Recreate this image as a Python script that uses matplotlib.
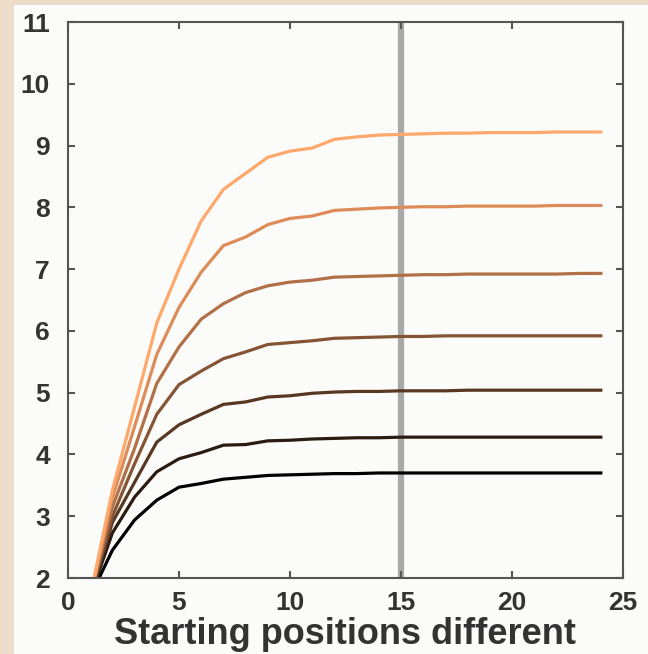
import numpy as np
import matplotlib
matplotlib.use('Agg')
import matplotlib.pyplot as plt
from matplotlib.patches import Rectangle

plt.rcParams['font.family'] = ['Liberation Sans', 'DejaVu Sans']
plt.rcParams['font.weight'] = 'bold'

positions = np.arange(1, 25)

# One curve per level, bottom (darkest) to top (lightest)
curve_1 = [1.7, 2.45, 2.94, 3.26, 3.47, 3.53, 3.60, 3.63, 3.66, 3.67, 3.68, 3.69,
           3.69, 3.70, 3.70, 3.70, 3.70, 3.70, 3.70, 3.70, 3.70, 3.70, 3.70, 3.70]
curve_2 = [1.7, 2.73, 3.31, 3.72, 3.93, 4.03, 4.15, 4.16, 4.22, 4.23, 4.25, 4.26,
           4.27, 4.27, 4.28, 4.28, 4.28, 4.28, 4.28, 4.28, 4.28, 4.28, 4.28, 4.28]
curve_3 = [1.7, 2.90, 3.55, 4.20, 4.48, 4.65, 4.81, 4.85, 4.93, 4.95, 4.99, 5.01,
           5.02, 5.02, 5.03, 5.03, 5.03, 5.04, 5.04, 5.04, 5.04, 5.04, 5.04, 5.04]
curve_4 = [1.7, 3.00, 3.85, 4.65, 5.13, 5.35, 5.55, 5.66, 5.78, 5.81, 5.84, 5.88,
           5.89, 5.90, 5.91, 5.91, 5.92, 5.92, 5.92, 5.92, 5.92, 5.92, 5.92, 5.92]
curve_5 = [1.7, 3.15, 4.10, 5.15, 5.74, 6.19, 6.44, 6.62, 6.73, 6.79, 6.82, 6.87,
           6.88, 6.89, 6.90, 6.91, 6.91, 6.92, 6.92, 6.92, 6.92, 6.92, 6.93, 6.93]
curve_6 = [1.7, 3.30, 4.45, 5.62, 6.38, 6.95, 7.38, 7.52, 7.72, 7.82, 7.86, 7.95,
           7.97, 7.99, 8.00, 8.01, 8.01, 8.02, 8.02, 8.02, 8.02, 8.03, 8.03, 8.03]
curve_7 = [1.7, 3.42, 4.77, 6.13, 7.00, 7.78, 8.29, 8.55, 8.81, 8.91, 8.96, 9.10,
           9.14, 9.17, 9.18, 9.19, 9.20, 9.20, 9.21, 9.21, 9.21, 9.22, 9.22, 9.22]
curves = [curve_1, curve_2, curve_3, curve_4, curve_5, curve_6, curve_7]

marker_x = 15

fig = plt.figure(figsize=(6.48, 6.54), dpi=100)
fig.patch.set_facecolor('#fbfbf9')

# Peach frame along the left and top edges
fig.add_artist(Rectangle((0, 0), 14 / 648, 1, transform=fig.transFigure,
                         facecolor='#eedccb', edgecolor='none', zorder=0))
fig.add_artist(Rectangle((0, 1 - 5 / 654), 1, 5 / 654, transform=fig.transFigure,
                         facecolor='#eedccb', edgecolor='none', zorder=0))

ax = fig.add_axes([68 / 648, 1 - 578 / 654, 555 / 648, 556 / 654])
ax.set_facecolor('#fbfbf9')

ax.axvline(marker_x, color='#a9a9a9', lw=4.5, zorder=1)

colors = plt.cm.copper(np.linspace(0, 0.84, len(curves)))
for vals, c in zip(curves, colors):
    ax.plot(positions, vals, color=c, lw=2.3, zorder=2, solid_joinstyle='miter')

ax.set_xlim(0, 25)
ax.set_ylim(2, 11)
ax.set_xticks([0, 5, 10, 15, 20, 25])
ax.set_yticks(range(2, 12))

for s in ax.spines.values():
    s.set_color('#555555')
    s.set_linewidth(1.5)
ax.tick_params(direction='in', length=5, width=1.5, color='#555555',
               top=True, right=True, labelsize=19, labelcolor='#333333')
ax.tick_params(axis='x', pad=9)
ax.tick_params(axis='y', pad=13)
for lbl in ax.get_xticklabels() + ax.get_yticklabels():
    lbl.set_fontweight('bold')

ax.set_xlabel('Starting positions different', fontsize=26, fontweight='bold',
              color='#333333', labelpad=2)

fig.savefig('out.png', dpi=100, facecolor=fig.get_facecolor())
